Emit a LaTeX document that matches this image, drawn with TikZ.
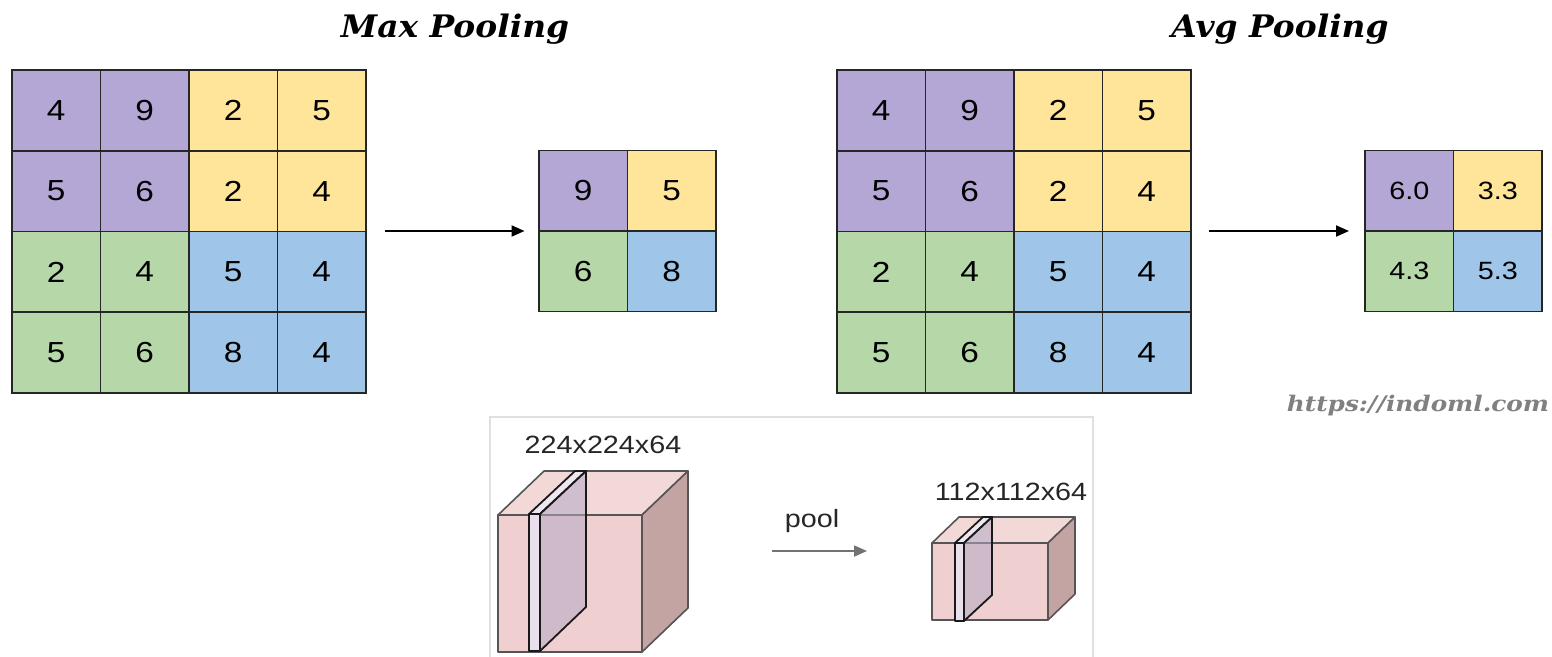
\documentclass[tikz,border=0pt]{standalone}
\usepackage{fontspec}
\usepackage{graphicx}
\setmainfont{Liberation Sans}
\newfontfamily\titlefont{DejaVu Serif}
\usetikzlibrary{arrows.meta}

\definecolor{cpurple}{HTML}{B4A7D6}
\definecolor{cyellow}{HTML}{FFE599}
\definecolor{cgreen}{HTML}{B6D7A8}
\definecolor{cblue}{HTML}{9FC5E8}
\definecolor{cfront}{HTML}{EFCFCF}
\definecolor{ctop}{HTML}{F3D8D8}
\definecolor{cside}{HTML}{C4A3A3}
\definecolor{cslicefront}{HTML}{EADFEC}
\definecolor{cslicetop}{HTML}{EEE6F0}
\definecolor{csliceside}{HTML}{B3AAC4}
\definecolor{cedge}{HTML}{555555}

% wide lettering
\newcommand\widetxt[1]{\scalebox{1.15}[1]{#1}}
\newcommand\titletxt[1]{\scalebox{1.06}[1]{#1}}

\tikzset{
  cell/.style={draw=black!85, line width=1.8pt, inner sep=0pt, anchor=center,
               font=\fontsize{29}{30}\selectfont},
  holder/.style={inner sep=0pt, outer sep=0pt},
  arr/.style={line width=2pt, -{Triangle[length=13pt,width=11pt]}},
  poolarr/.style={line width=1.8pt, draw=black!55, -{Triangle[length=13pt,width=11pt]}, black!55},
  cubeface/.style={draw=cedge, line width=1.6pt, line join=round},
  sliceface/.style={draw=black!90, line width=1.8pt, line join=round},
  title/.style={font=\titlefont\bfseries\itshape\fontsize{31}{36}\selectfont, anchor=base},
  dimlabel/.style={font=\fontsize{25}{30}\selectfont, anchor=base, text=black!85},
}

% 4x4 input grid: #1 name prefix, #2 left x, #3 top y
\newcommand\inputgrid[3]{%
  \foreach \v [count=\k from 0] in {4,9,2,5,5,6,2,4,2,4,5,4,5,6,8,4}{%
    \pgfmathtruncatemacro\rr{\k/4}%
    \pgfmathtruncatemacro\cc{mod(\k,4)}%
    \pgfmathtruncatemacro\qq{2*int(\rr/2)+int(\cc/2)}%
    \edef\fc{\ifcase\qq cpurple\or cyellow\or cgreen\or cblue\fi}%
    \node[cell, fill=\fc, minimum width=88.5pt, minimum height=80.75pt]
      (#1-\rr-\cc) at ({#2+(\cc+0.5)*88.5},{#3+(\rr+0.5)*80.75}) {\widetxt{\v}};
  }%
}

% 2x2 output grid: #1 name prefix, #2 left x, #3 top y, #4 font size, #5 values
\newcommand\outputgrid[5]{%
  \foreach \v [count=\k from 0] in {#5}{%
    \pgfmathtruncatemacro\rr{\k/2}%
    \pgfmathtruncatemacro\cc{mod(\k,2)}%
    \edef\fc{\ifcase\k cpurple\or cyellow\or cgreen\or cblue\fi}%
    \node[cell, fill=\fc, minimum width=88.5pt, minimum height=80.5pt,
          font=\fontsize{#4}{#4}\selectfont]
      (#1-\rr-\cc) at ({#2+(\cc+0.5)*88.5},{#3+(\rr+0.5)*80.5}) {\widetxt{\v}};
  }%
}

\begin{document}
\begin{tikzpicture}[x=1pt, y=-1pt]
\useasboundingbox (0,0) rectangle (1552,656);

% ---------- titles ----------
\node[title] (tmax) at (455,37) {\titletxt{Max Pooling}};
\node[title] (tavg) at (1280,37) {\titletxt{Avg Pooling}};

% ---------- max pooling ----------
\inputgrid{mx}{12}{70}
\outputgrid{mo}{539}{150.5}{29}{9,5,6,8}
\node[holder, minimum width=354pt, minimum height=161pt] (mxin) at (189,231) {};
\node[holder, minimum width=177pt, minimum height=161pt] (mxout) at (628,231) {};
\draw[arr, shorten <=19pt, shorten >=15pt] (mxin) -- (mxout);

% ---------- average pooling ----------
\inputgrid{av}{837}{70}
\outputgrid{ao}{1365}{150.5}{25}{6.0,3.3,4.3,5.3}
\node[holder, minimum width=354pt, minimum height=161pt] (avin) at (1014,231) {};
\node[holder, minimum width=177pt, minimum height=161pt] (avout) at (1453.5,231) {};
\draw[arr, shorten <=18pt, shorten >=16pt] (avin) -- (avout);

% ---------- source ----------
\node[font=\titlefont\bfseries\itshape\fontsize{21.5}{24}\selectfont, text=black!50,
      anchor=base] (src) at (1418,411) {\widetxt{https://indoml.com}};

% ---------- volume sketch panel ----------
\draw[draw=black!12, line width=1.2pt] (490,662) -- (490,417) -- (1093,417) -- (1093,662);

% large volume
\filldraw[cubeface, fill=ctop]  (498,515) -- (544,471) -- (688,471) -- (642,515) -- cycle;
\filldraw[cubeface, fill=cside] (642,515) -- (688,471) -- (688,608) -- (642,652) -- cycle;
\filldraw[cubeface, fill=cfront] (498,515) rectangle (642,652);
% depth slice of the large volume
\filldraw[sliceface, fill=cslicefront] (529,514) rectangle (540,651);
\filldraw[sliceface, fill=cslicetop] (529,514) -- (575,471) -- (586,471) -- (540,514) -- cycle;
\filldraw[sliceface, fill=csliceside, fill opacity=0.55] (540,514) -- (586,471) -- (586,607) -- (540,651) -- cycle;
\node[dimlabel] (lbig) at (603,453) {\widetxt{224x224x64}};

% small volume
\filldraw[cubeface, fill=ctop]  (932,543) -- (959,517) -- (1075,517) -- (1048,543) -- cycle;
\filldraw[cubeface, fill=cside] (1048,543) -- (1075,517) -- (1075,594) -- (1048,620) -- cycle;
\filldraw[cubeface, fill=cfront] (932,543) rectangle (1048,620);
% depth slice of the small volume
\filldraw[sliceface, fill=cslicefront] (955,543) rectangle (964,621);
\filldraw[sliceface, fill=cslicetop] (955,543) -- (983,517) -- (992,517) -- (964,543) -- cycle;
\filldraw[sliceface, fill=csliceside, fill opacity=0.55] (964,543) -- (992,517) -- (992,595) -- (964,621) -- cycle;
\node[dimlabel] (lsmall) at (1011,500) {\widetxt{112x112x64}};

% pooling step
\node[dimlabel] (lpool) at (812,527) {\widetxt{pool}};
\coordinate (poolfrom) at (772,551);
\coordinate (poolto) at (867,551);
\draw[poolarr] (poolfrom) -- (poolto);
\end{tikzpicture}
\end{document}
